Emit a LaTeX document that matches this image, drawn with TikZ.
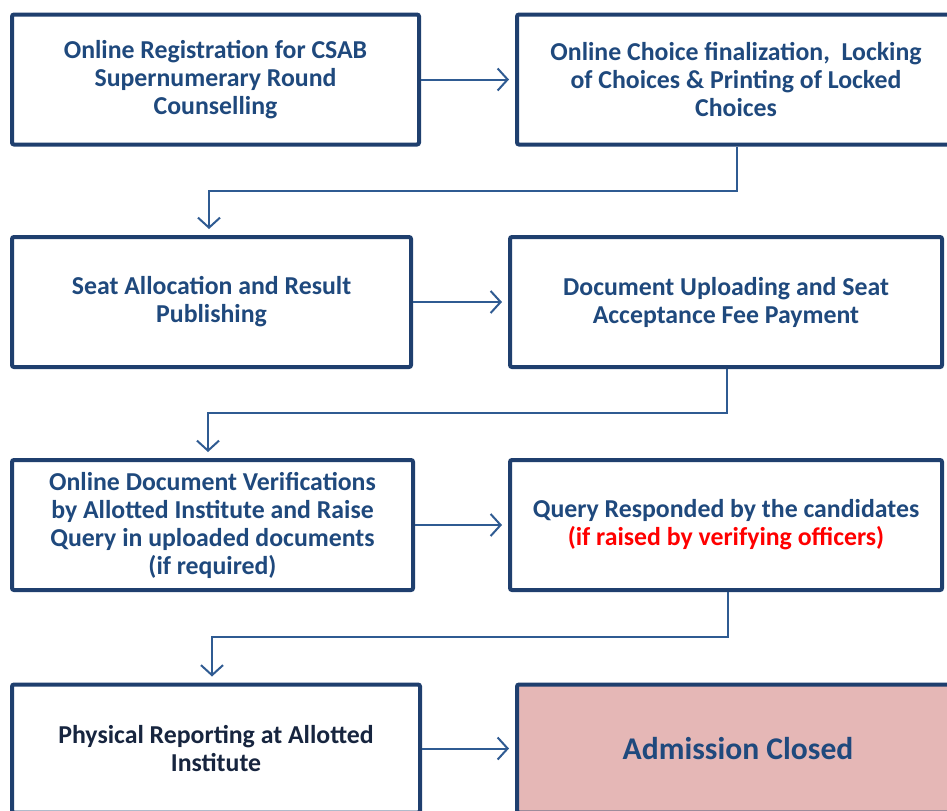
\documentclass[tikz,border=0pt]{standalone}
\usepackage{fontspec}
\setmainfont{Carlito}
\usetikzlibrary{positioning}
\usetikzlibrary{arrows.meta}
\usetikzlibrary{calc}
\definecolor{boxblue}{HTML}{1F3F6E}
\definecolor{textblue}{HTML}{1F497D}
\definecolor{textdark}{HTML}{17253F}
\definecolor{linkblue}{HTML}{2F5B92}
\definecolor{closedpink}{HTML}{E5B7B6}

\begin{document}
\begin{tikzpicture}[x=0.5pt,y=-0.5pt,
    stepbox/.style={draw=boxblue, line width=2pt, rounded corners=1pt, fill=white,
      align=center, inner sep=0pt, text=textblue,
      font=\bfseries\fontsize{12.9}{14}\selectfont},
    flow/.style={draw=linkblue, line width=1pt, shorten >=3pt,
      -{Straight Barb[length=5pt,width=11pt,line width=1pt]}}]
    % Fix the page size and cut the boxes at the border
    \useasboundingbox (0,0) rectangle (947,810);
    \clip (0,0) rectangle (947,810);

    % Define the steps
    \node[stepbox, minimum width=203.5pt, minimum height=65pt] (reg) at (215.5,79.5)
      {Online Registration for CSAB\\Supernumerary Round\\Counselling};
    \node[stepbox, minimum width=219pt, minimum height=65pt] (choice) at (736,79.5)
      {Online Choice finalization,\ \ Locking\\of Choices \& Printing of Locked\\Choices};
    \node[stepbox, minimum width=199.5pt, minimum height=65pt] (seat) at (211.5,302)
      {Seat Allocation and Result\\Publishing};
    \node[stepbox, minimum width=216pt, minimum height=65pt] (upload) at (726,302)
      {Document Uploading and Seat\\Acceptance Fee Payment};
    \node[stepbox, minimum width=200.5pt, minimum height=65pt] (verify) at (212.5,525)
      {Online Document Verifications\\by Allotted Institute and Raise\\Query in uploaded documents\\(if required)};
    \node[stepbox, minimum width=216pt, minimum height=65pt] (query) at (726,525)
      {Query Responded by the candidates\\\textcolor{red}{(if raised by verifying officers)}};
    \node[stepbox, text=textdark, minimum width=204pt, minimum height=64pt] (report) at (216,748.5)
      {Physical Reporting at Allotted\\Institute};
    \node[stepbox, fill=closedpink, minimum width=221pt, minimum height=64pt,
      font=\bfseries\fontsize{15.8}{18}\selectfont] (closed) at (738,748.5)
      {Admission Closed};

    % Draw the lines
    \draw[flow] (reg.east) -- (reg.east -| choice.west);
    \draw[flow] (seat.east) -- (seat.east -| upload.west);
    \draw[flow] (verify.east) -- (verify.east -| query.west);
    \draw[flow] (report.east) -- (report.east -| closed.west);

    \coordinate (b1) at (737,191);
    \coordinate (b2) at (727,413);
    \coordinate (b3) at (728,637);
    \draw[flow] (choice.south -| b1) -- (b1) -| ($(seat.north west)+(199,0)$) ;
    \draw[flow] (upload.south -| b2) -- (b2) -| ($(verify.north west)+(198,0)$);
    \draw[flow] (query.south -| b3) -- (b3) -| ($(report.north west)+(202,0)$);
\end{tikzpicture}
\end{document}
